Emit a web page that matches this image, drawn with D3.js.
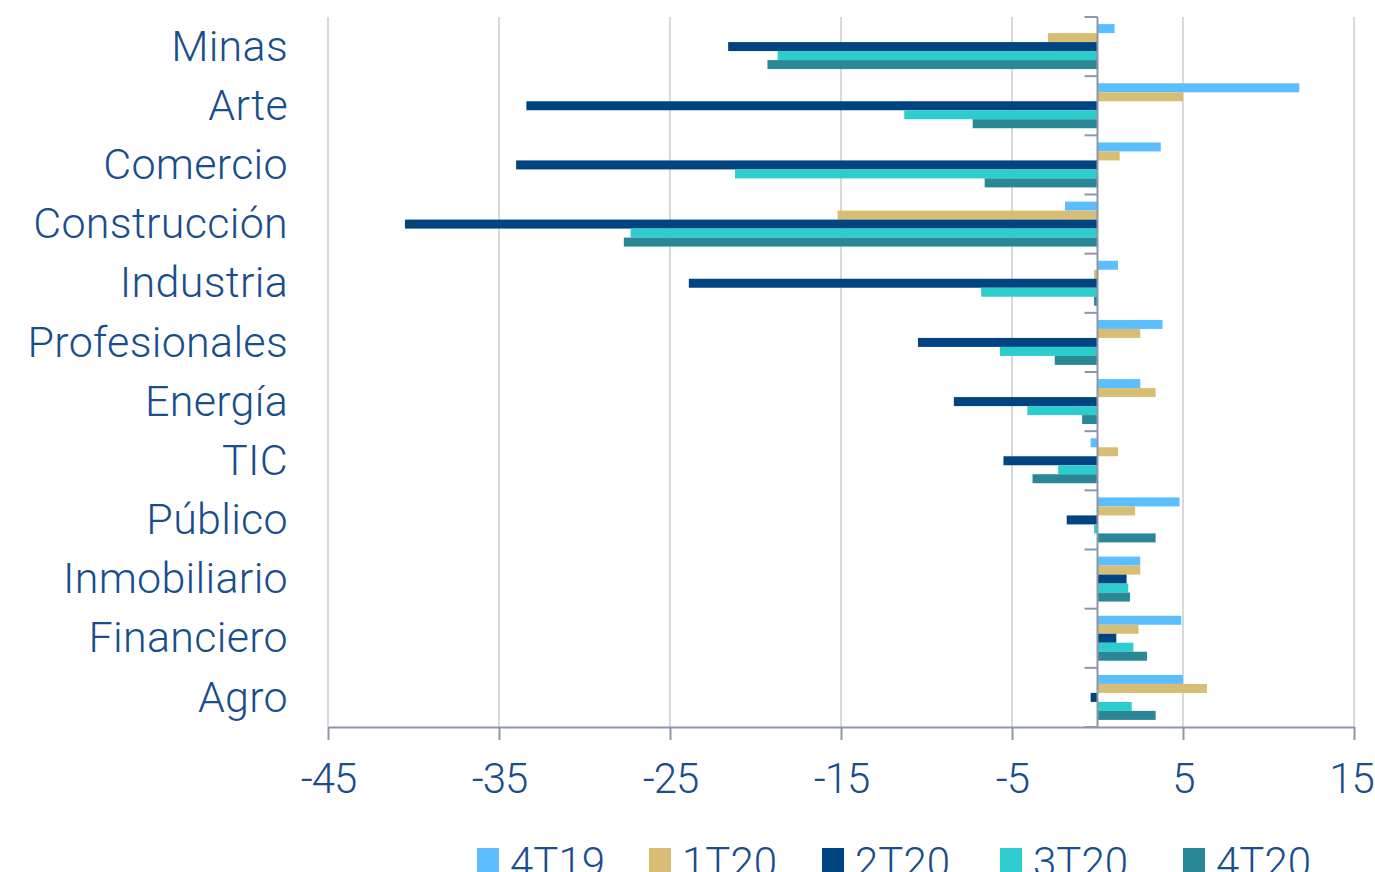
<!DOCTYPE html>
<html>
<head>
<meta charset="utf-8">
<script src="https://cdnjs.cloudflare.com/ajax/libs/d3/7.8.5/d3.min.js"></script>
<style>
  body { margin: 0; background: #fff; }
  svg text { font-family: Roboto, "Open Sans", sans-serif; font-weight: 300; fill: #1a4d8c; }
</style>
</head>
<body>
<div id="chart"></div>
<script>
// data (variacion, %)
var categories = ["Minas", "Arte", "Comercio", "Construcción", "Industria", "Profesionales",
                  "Energía", "TIC", "Público", "Inmobiliario", "Financiero", "Agro"];
var series = ["4T19", "1T20", "2T20", "3T20", "4T20"];
var colors = ["#5bbeff", "#d8be75", "#004481", "#2dcccd", "#2a8896"];

var v4T19 = [1.0, 11.8, 3.7, -1.9, 1.2, 3.8, 2.5, -0.4, 4.8, 2.5, 4.9, 5.0];
var v1T20 = [-2.9, 5.0, 1.3, -15.2, -0.2, 2.5, 3.4, 1.2, 2.2, 2.5, 2.4, 6.4];
var v2T20 = [-21.6, -33.4, -34.0, -40.5, -23.9, -10.5, -8.4, -5.5, -1.8, 1.7, 1.1, -0.4];
var v3T20 = [-18.7, -11.3, -21.2, -27.3, -6.8, -5.7, -4.1, -2.3, -0.2, 1.8, 2.1, 2.0];
var v4T20 = [-19.3, -7.3, -6.6, -27.7, -0.2, -2.5, -0.9, -3.8, 3.4, 1.9, 2.9, 3.4];
var values = [v4T19, v1T20, v2T20, v3T20, v4T20];

var xTicks = [-45, -35, -25, -15, -5, 5, 15];

var width = 1375, height = 872;
var margin = {top: 17, right: 21, bottom: 145, left: 328};

var svg = d3.select("#chart").append("svg")
    .attr("width", width)
    .attr("height", height);

var x = d3.scaleLinear()
    .domain([-45, 15])
    .range([margin.left, width - margin.right]);

var y = d3.scaleBand()
    .domain(categories)
    .range([margin.top, height - margin.bottom])
    .paddingInner(0.24)
    .paddingOuter(0.12);

var ySub = d3.scaleBand()
    .domain(series)
    .range([0, y.bandwidth()]);

var rows = [];
categories.forEach(function(c, i) {
  series.forEach(function(s, j) {
    rows.push({cat: c, s: s, v: values[j][i], color: colors[j]});
  });
});

// grid lines
svg.append("g").selectAll("line")
    .data(xTicks)
  .enter().append("line")
    .attr("x1", function(d) { return x(d); })
    .attr("x2", function(d) { return x(d); })
    .attr("y1", margin.top)
    .attr("y2", height - margin.bottom)
    .attr("stroke", "#d9d9d9")
    .attr("stroke-width", 2);

// bars
svg.append("g").selectAll("rect")
    .data(rows)
  .enter().append("rect")
    .attr("x", function(d) { return x(Math.min(0, d.v)); })
    .attr("width", function(d) { return Math.abs(x(d.v) - x(0)); })
    .attr("y", function(d) { return y(d.cat) + ySub(d.s); })
    .attr("height", ySub.bandwidth())
    .attr("fill", function(d) { return d.color; });

// x axis
var xAxis = d3.axisBottom(x)
    .tickValues(xTicks)
    .tickFormat(function(d) { return String(d); })
    .tickSize(13)
    .tickSizeOuter(0)
    .tickPadding(23);

var gx = svg.append("g")
    .attr("transform", "translate(0," + (height - margin.bottom) + ")")
    .call(xAxis);
gx.select(".domain").attr("stroke", "#8d96ac").attr("stroke-width", 2);
gx.selectAll(".tick line").attr("stroke", "#8d96ac").attr("stroke-width", 2);
gx.selectAll(".tick text")
    .style("font-size", "42px")
    .style("letter-spacing", "-1px")
    .attr("fill", "#1a4d8c");
// keep the last label inside the page
gx.selectAll(".tick text").filter(function(d) { return d === 15; }).attr("dx", -3);

// zero axis with category separators
var step = y.step();
var seps = d3.range(categories.length + 1).map(function(i) { return margin.top + i * step; });
var gz = svg.append("g");
gz.append("line")
    .attr("x1", x(0)).attr("x2", x(0))
    .attr("y1", margin.top).attr("y2", height - margin.bottom)
    .attr("stroke", "#8d96ac").attr("stroke-width", 2);
gz.selectAll(".sep")
    .data(seps)
  .enter().append("line")
    .attr("class", "sep")
    .attr("x1", x(0) - 13).attr("x2", x(0))
    .attr("y1", function(d) { return d; })
    .attr("y2", function(d) { return d; })
    .attr("stroke", "#8d96ac").attr("stroke-width", 2);

// category labels
svg.append("g").selectAll("text")
    .data(categories)
  .enter().append("text")
    .attr("x", 288)
    .attr("y", function(d) { return y(d) + y.bandwidth() / 2; })
    .attr("dy", "0.33em")
    .attr("text-anchor", "end")
    .style("font-size", "43px")
    .style("letter-spacing", "0.3px")
    .text(function(d) { return d; });

// legend
var legendX = [477, 649, 822, 1000, 1183];
var lg = svg.append("g").selectAll("g")
    .data(series)
  .enter().append("g")
    .attr("transform", function(d, i) { return "translate(" + legendX[i] + ",848)"; });
lg.append("rect")
    .attr("width", 22).attr("height", 24)
    .attr("fill", function(d, i) { return colors[i]; });
lg.append("text")
    .attr("x", 33)
    .attr("y", 14)
    .attr("dy", "0.35em")
    .style("font-size", "42px")
    .text(function(d) { return d; });
</script>
</body>
</html>
